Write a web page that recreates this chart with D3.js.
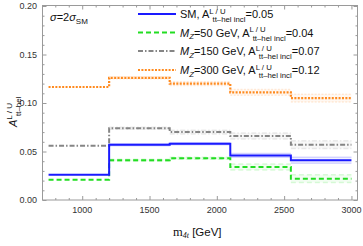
<!DOCTYPE html>
<html><head><meta charset="utf-8">
<script src="https://cdn.jsdelivr.net/npm/d3@7"></script>
<style>body{margin:0;background:#fff}svg{display:block}text{font-family:"Liberation Sans",Arial,sans-serif}</style>
</head><body><svg id="c" width="363" height="246"></svg>
<script>
const binEdges = [750, 1200, 1650, 2100, 2550, 3000];
const smVals   = [0.026, 0.057, 0.058, 0.046, 0.041];
const z50Vals  = [0.021, 0.041, 0.043, 0.034, 0.022];
const z150Vals = [0.056, 0.074, 0.070, 0.066, 0.057];
const z300Vals = [0.1165, 0.126, 0.120, 0.111, 0.105];
const smErr   = [0, 0.001, 0.001, 0.002, 0.003];
const z50Err  = [0, 0.001, 0.001, 0.003, 0.004];
const z150Err = [0, 0.001, 0.002, 0.003, 0.004];
const z300Err = [0, 0.001, 0.002, 0.003, 0.004];
const xTicks = [1000, 1500, 2000, 2500, 3000];
const yTicks = [0, 0.05, 0.10, 0.15, 0.20];
const legendNames = ["SM", "50", "150", "300"];
const legendIncl = ["0.05", "0.04", "0.07", "0.12"];

const svg = d3.select("#c");
const x = d3.scaleLinear().domain([705, 3045]).range([42.5, 357.5]);
const y = d3.scaleLinear().domain([0, 0.2]).range([200, 6]);

const series = [
  {v: smVals, e: smErr, color: "#1a1aff", dash: null, w: 2},
  {v: z50Vals, e: z50Err, color: "#22dd22", dash: "5,3", w: 2},
  {v: z150Vals, e: z150Err, color: "#858585", dash: "5,2,1.5,2", w: 2},
  {v: z300Vals, e: z300Err, color: "#ff8a1e", dash: "2,1.4", w: 2.2}
];

// frame
svg.append("rect").attr("x", 42.5).attr("y", 5.5).attr("width", 315).attr("height", 194.5)
  .attr("fill", "none").attr("stroke", "#9a9a9a").attr("stroke-width", 1);

function ticks(axisGen, tr, vals, size) {
  const g = svg.append("g").attr("transform", tr)
    .call(axisGen.tickValues(vals).tickSize(size).tickFormat(""));
  g.select(".domain").remove();
  g.selectAll("line").attr("stroke", "#9a9a9a");
  return g;
}
const xMinor = d3.range(800, 3001, 100).filter(d => d % 500 !== 0);
const yMinor = d3.range(1, 20).map(d => d / 100).filter(d => Math.round(d * 100) % 5 !== 0);
ticks(d3.axisBottom(x), "translate(0,200)", xTicks, -4);
ticks(d3.axisBottom(x), "translate(0,200)", xMinor, -2);
ticks(d3.axisTop(x), "translate(0,5.5)", xTicks, -4);
ticks(d3.axisTop(x), "translate(0,5.5)", xMinor, -2);
ticks(d3.axisLeft(y), "translate(42.5,0)", yTicks, -4);
ticks(d3.axisLeft(y), "translate(42.5,0)", yMinor, -2);
ticks(d3.axisRight(y), "translate(357.5,0)", yTicks, -4);
ticks(d3.axisRight(y), "translate(357.5,0)", yMinor, -2);

// tick labels
svg.append("g").selectAll("text").data(xTicks).join("text")
  .attr("x", d => x(d)).attr("y", 213).attr("text-anchor", "middle")
  .attr("font-size", 9).attr("fill", "#333").text(d => d);
svg.append("g").selectAll("text").data(yTicks).join("text")
  .attr("x", 37).attr("y", d => y(d) + 3.2).attr("text-anchor", "end")
  .attr("font-size", 9).attr("fill", "#333").text(d => d3.format(".2f")(d));

// bands
series.forEach(s => {
  s.v.forEach((v, i) => {
    if (s.e[i] <= 0) return;
    [-1, 1].forEach(sg => {
      svg.append("line").attr("x1", x(binEdges[i])).attr("x2", x(binEdges[i + 1]))
        .attr("y1", y(v + sg * s.e[i])).attr("y2", y(v + sg * s.e[i]))
        .attr("stroke", s.color).attr("stroke-opacity", 0.16).attr("stroke-width", 1.5)
        .attr("stroke-dasharray", s.dash);
    });
    svg.append("rect").attr("x", x(binEdges[i])).attr("width", x(binEdges[i + 1]) - x(binEdges[i]))
      .attr("y", y(v + s.e[i])).attr("height", y(v - s.e[i]) - y(v + s.e[i]))
      .attr("fill", s.color).attr("fill-opacity", 0.06);
  });
});

// step lines
const line = d3.line().x(d => x(d[0])).y(d => y(d[1])).curve(d3.curveStepAfter);
series.slice().reverse().forEach(s => {
  const pts = s.v.map((v, i) => [binEdges[i], v]);
  pts.push([binEdges[binEdges.length - 1], s.v[s.v.length - 1]]);
  svg.append("path").attr("d", line(pts)).attr("fill", "none")
    .attr("stroke", s.color).attr("stroke-width", s.w).attr("stroke-dasharray", s.dash);
});

// legend
const rowY = [14, 32.5, 51, 70];
series.forEach((s, i) => {
  svg.append("line").attr("x1", 138).attr("x2", 176).attr("y1", rowY[i]).attr("y2", rowY[i])
    .attr("stroke", s.color).attr("stroke-width", s.w).attr("stroke-dasharray", s.dash);
  const t = svg.append("text").attr("x", 180).attr("y", rowY[i] + 4).attr("font-size", 11).attr("fill", "#111");
  if (i === 0) {
    t.append("tspan").text("SM, A");
  } else {
    t.append("tspan").attr("font-style", "italic").text("M");
    t.append("tspan").attr("font-style", "italic").attr("font-size", 7.8).attr("dy", 2.5).text("Z");
    t.append("tspan").attr("dy", -2.5).text("=" + legendNames[i] + " GeV, A");
  }
  t.append("tspan").attr("font-size", 7.8).attr("dy", -4.5).text("L / U");
  t.append("tspan").attr("font-size", 7.8).attr("dx", -13).attr("dy", 8.5).text("tt\u2013hel incl");
  t.append("tspan").attr("dy", -4).text("=" + legendIncl[i]);
});

// sigma label
const sg = svg.append("text").attr("x", 50).attr("y", 21).attr("font-size", 11).attr("fill", "#111");
sg.append("tspan").attr("font-style", "italic").text("\u03c3");
sg.append("tspan").text("=2");
sg.append("tspan").attr("font-style", "italic").text("\u03c3");
sg.append("tspan").attr("font-size", 8).attr("dy", 2.5).text("SM");

// y label
const yl = svg.append("text").attr("transform", "translate(17,127) rotate(-90)").attr("font-size", 11).attr("fill", "#111");
yl.append("tspan").attr("font-style", "italic").text("A");
yl.append("tspan").attr("font-size", 8).attr("dy", -5).text("L / U");
yl.append("tspan").attr("font-size", 8).attr("dx", -13).attr("dy", 9).text("tt\u2013hel");

// x label
const xl = svg.append("text").attr("x", 173).attr("y", 236).attr("font-size", 11.5).attr("fill", "#111");
xl.append("tspan").attr("font-family", "'Liberation Serif','DejaVu Serif',serif").attr("font-size", 12.5).text("m");
xl.append("tspan").attr("font-family", "'Liberation Serif','DejaVu Serif',serif").attr("font-style", "italic").attr("font-size", 8).attr("dy", 2).text("4t");
xl.append("tspan").attr("dy", -2).text(" [GeV]");
</script></body></html>
